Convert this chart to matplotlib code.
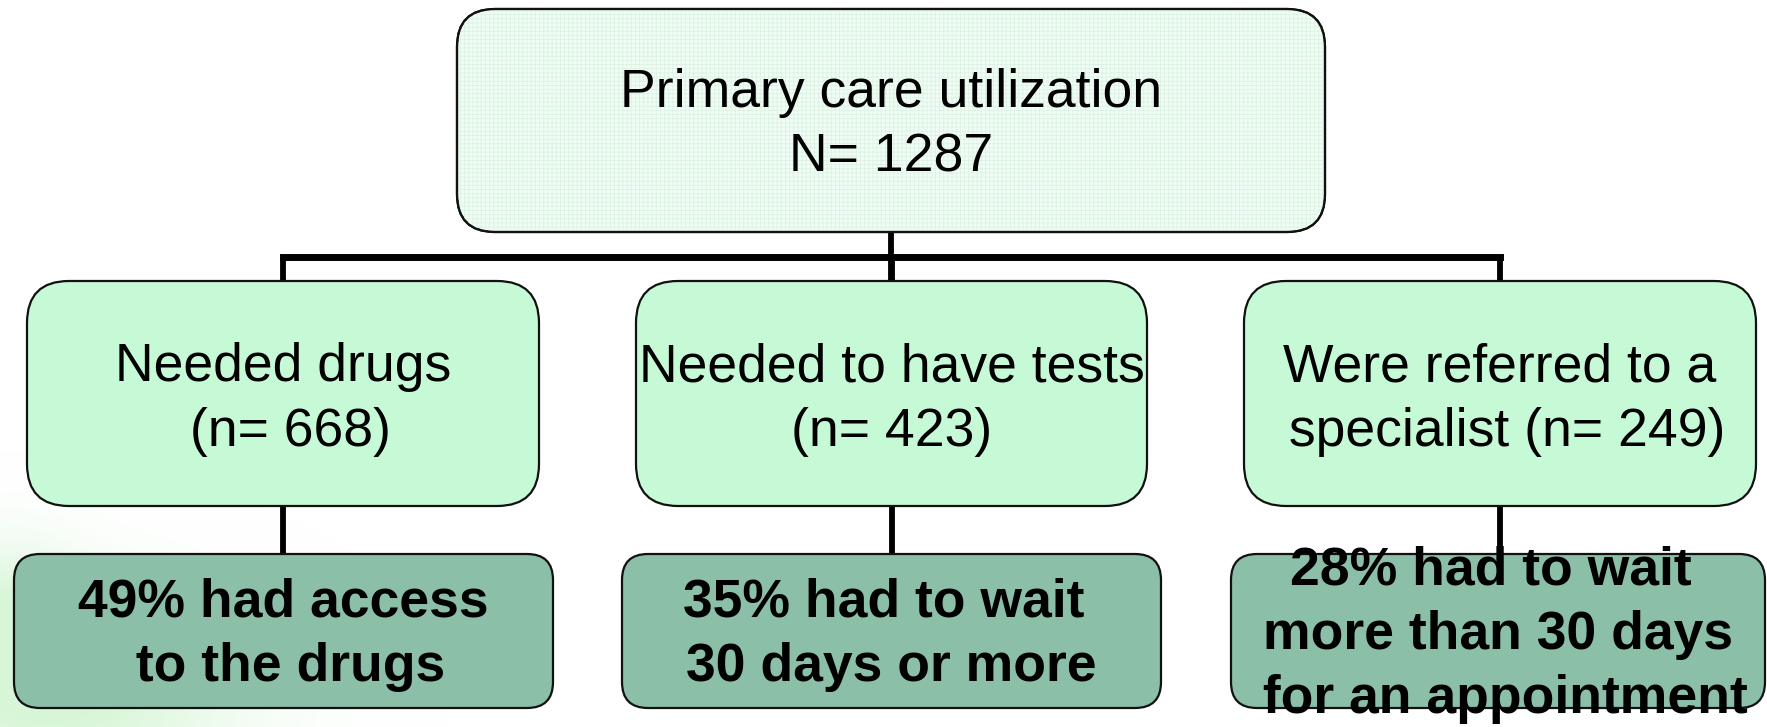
import matplotlib
matplotlib.use("Agg")
import matplotlib.pyplot as plt
from matplotlib.patches import FancyBboxPatch
import numpy as np

# ---- data ----
top_title = "Primary care utilization"
total_n = 1287
category_labels = ["Needed drugs\n ", "Needed to have tests\n", "Were referred to a\n specialist "]
category_n = [668, 423, 249]
outcome_pct = [49, 35, 28]
outcome_text = ["had access\n to the drugs",
                "had to wait \n30 days or more",
                "had to wait \nmore than 30 days\n for an appointment"]

# ---- styling / layout (pixel space) ----
W, H = 1767, 727
FONT = ["Liberation Sans", "DejaVu Sans"]
FS = 38.5
LS = 1.36
EDGE = "#111111"
TOP_FC = "#F0FDF4"
MID_FC = "#C6F9D6"
BOT_FC = "#8CBFA8"

top_box = (457, 9, 1325, 232)
mid_x = [(27, 539), (636, 1147), (1244, 1756)]
mid_y = (281, 506)
bot_x = [(14, 553), (622, 1161), (1231, 1765)]
bot_y = (554, 708)
bar_y = 257

fig = plt.figure(figsize=(W / 100, H / 100), dpi=100)
ax = fig.add_axes([0, 0, 1, 1])
ax.set_xlim(0, W)
ax.set_ylim(H, 0)
ax.axis("off")

# faint decorative green blob in the lower-left corner
yy, xx = np.mgrid[0:H, 0:W]
blob = np.exp(-(((xx - 60) / 170.0) ** 2 + ((yy - 700) / 100.0) ** 2))
blob += 0.7 * np.exp(-(((xx - 10) / 70.0) ** 2 + ((yy - 610) / 70.0) ** 2))
blob = np.clip(blob, 0, 1)
rgba = np.zeros((H, W, 4))
rgba[..., 0] = 0.78
rgba[..., 1] = 0.95
rgba[..., 2] = 0.78
rgba[..., 3] = 0.7 * blob
ax.imshow(rgba, extent=(0, W, H, 0), zorder=0, interpolation="bilinear")


def rbox(x0, y0, x1, y1, fc, r, hatch=None):
    p = FancyBboxPatch((x0, y0), x1 - x0, y1 - y0,
                       boxstyle=f"round,pad=0,rounding_size={r}",
                       fc=fc, ec=EDGE, lw=1.6, zorder=3)
    ax.add_patch(p)
    if hatch:
        h = FancyBboxPatch((x0, y0), x1 - x0, y1 - y0,
                           boxstyle=f"round,pad=0,rounding_size={r}",
                           fc="none", ec="#DDF2E3", lw=0, hatch=hatch, zorder=3.1)
        ax.add_patch(h)
        p2 = FancyBboxPatch((x0, y0), x1 - x0, y1 - y0,
                            boxstyle=f"round,pad=0,rounding_size={r}",
                            fc="none", ec=EDGE, lw=1.6, zorder=3.2)
        ax.add_patch(p2)
    return p


plt.rcParams["hatch.linewidth"] = 0.6

# top box
tx0, ty0, tx1, ty1 = top_box
rbox(tx0, ty0, tx1, ty1, TOP_FC, 38, hatch="++++")
tcx = (tx0 + tx1) / 2
ax.text(tcx, (ty0 + ty1) / 2 + 5, f"{top_title}\nN= {total_n}", ha="center", va="center",
        fontsize=FS, family=FONT, linespacing=LS, zorder=5)

# connectors
mid_cx = [(a + b) / 2 for a, b in mid_x]
ax.plot([tcx, tcx], [ty1, mid_y[0]], color="black", lw=4.2, zorder=2, solid_capstyle="butt")
ax.plot([mid_cx[0], mid_cx[-1]], [bar_y, bar_y], color="black", lw=5.0, zorder=2,
        solid_capstyle="projecting")
for cx in mid_cx:
    ax.plot([cx, cx], [bar_y, mid_y[0]], color="black", lw=4.2, zorder=2, solid_capstyle="butt")
    ax.plot([cx, cx], [mid_y[1], bot_y[0]], color="black", lw=4.2, zorder=2, solid_capstyle="butt")

# middle boxes
for (x0, x1), lab, n in zip(mid_x, category_labels, category_n):
    rbox(x0, mid_y[0], x1, mid_y[1], MID_FC, 42)
    ax.text((x0 + x1) / 2, (mid_y[0] + mid_y[1]) / 2 + 6, f"{lab}(n= {n})",
            ha="center", va="center", fontsize=FS, family=FONT, linespacing=LS, zorder=5)

# bottom boxes
for (x0, x1), p, t in zip(bot_x, outcome_pct, outcome_text):
    rbox(x0, bot_y[0], x1, bot_y[1], BOT_FC, 26)
    ax.text((x0 + x1) / 2, (bot_y[0] + bot_y[1]) / 2 + 4, f"{p}% {t}",
            ha="center", va="center", fontsize=FS, family=FONT, fontweight="bold",
            linespacing=LS, zorder=5)

fig.savefig("out.png", dpi=100, facecolor="white")
